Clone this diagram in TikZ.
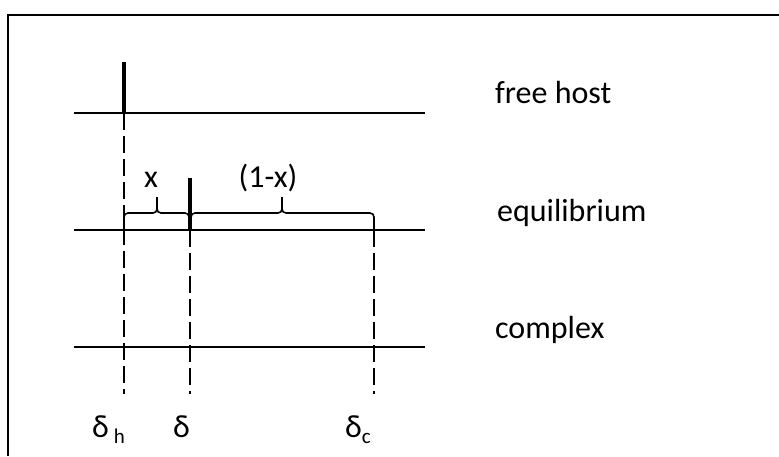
\documentclass[tikz,border=0pt]{standalone}
\usepackage{fontspec}
\setmainfont{Carlito}
\begin{document}
\begin{tikzpicture}[x=1pt,y=-1pt,
  lbl/.style={inner sep=0pt,anchor=base west,font=\fontsize{32}{38}\selectfont},
  clbl/.style={inner sep=0pt,anchor=base,font=\fontsize{32}{38}\selectfont},
  axisline/.style={line width=1.8pt},
  spike/.style={line width=4pt},
  guide/.style={line width=1.5pt,dash pattern=on 17pt off 6pt},
  bracepath/.style={line width=1.6pt,rounded corners=4pt}]
\useasboundingbox (0,0) rectangle (779,456);
\draw[line width=2.2pt] (8,456) -- (8,15) -- (779,15);
% positions
\coordinate (h0) at (124,113);
\coordinate (m0) at (190,230);
\coordinate (c0) at (374,230);
% base lines
\coordinate (fL) at (74,113);  \coordinate (fR) at (425,113);
\coordinate (eL) at (74,230);  \coordinate (eR) at (425,230);
\coordinate (cL) at (74,347);  \coordinate (cR) at (425,347);
\draw[axisline] (fL) -- (fR);
\draw[axisline] (eL) -- (eR);
\draw[axisline] (cL) -- (cR);
% spikes
\coordinate (hs) at (124,62);
\coordinate (ms) at (190,178);
\draw[spike] (hs) -- (h0);
\draw[spike] (ms) -- (m0);
% guides
\coordinate (hb) at (124,394);
\coordinate (mb) at (190,394);
\coordinate (cb) at (374,394);
\draw[guide] (h0) -- (hb);
\draw[guide] (m0) -- (mb);
\draw[guide] (374,230) -- (cb);
% braces
\draw[bracepath] (124,230) -- (124,213) -- (157,213) -- (157,197);
\draw[bracepath] (189,230) -- (189,213) -- (157,213) -- (157,197);
\draw[bracepath] (191,230) -- (191,213) -- (282,213) -- (282,197);
\draw[bracepath] (374,230) -- (374,213) -- (282,213) -- (282,197);
% labels
\node[clbl] (lx) at (151,187) {x};
\node[clbl] (l1x) at (268,187) {(1-x)};
\node[lbl] (tfree) at (495,103) {free host};
\node[lbl] (teq) at (497,221) {equilibrium};
\node[lbl] (tcx) at (495,338) {complex};
\node[lbl] (dh) at (92,437) {δ\hspace{5pt}\raisebox{-6pt}{\fontsize{21}{21}\selectfont h}};
\node[lbl] (dm) at (173,437) {δ};
\node[lbl] (dc) at (345,437) {δ\raisebox{-6pt}{\fontsize{21}{21}\selectfont c}};
\end{tikzpicture}
\end{document}
